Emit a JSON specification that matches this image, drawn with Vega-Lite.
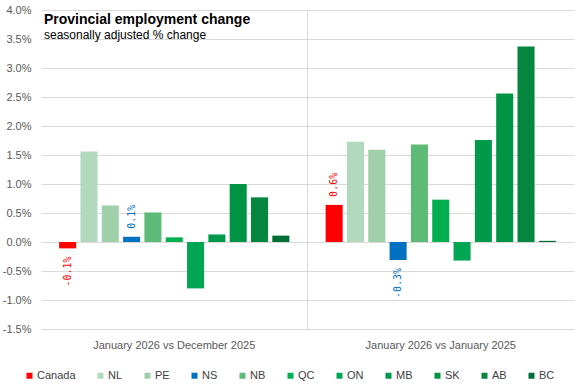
{
  "$schema": "https://vega.github.io/schema/vega-lite/v6.json",
  "width": 533,
  "height": 319,
  "autosize": {"type": "none"},
  "padding": {"left": 41, "top": 10, "right": 3, "bottom": 56},
  "background": "white",
  "config": {
    "locale": {"number": {"decimal": ".", "thousands": ",", "grouping": [3], "currency": ["$", ""], "minus": "-"}},
    "font": "Liberation Sans",
    "view": {"stroke": null}
  },
  "title": {
    "text": "Provincial employment change",
    "subtitle": "seasonally adjusted % change",
    "anchor": "start",
    "frame": "group",
    "orient": "top",
    "offset": -37,
    "dx": 3,
    "font": "Liberation Sans",
    "fontSize": 14,
    "fontWeight": "bold",
    "color": "#000000",
    "subtitleFont": "Liberation Sans",
    "subtitleFontSize": 12,
    "subtitleColor": "#000000",
    "subtitlePadding": 3
  },
  "data": {
    "values": [
      {"group": "January 2026 vs December 2025", "prov": "Canada", "value": -0.0011},
      {"group": "January 2026 vs December 2025", "prov": "NL", "value": 0.0156},
      {"group": "January 2026 vs December 2025", "prov": "PE", "value": 0.0063},
      {"group": "January 2026 vs December 2025", "prov": "NS", "value": 0.0009},
      {"group": "January 2026 vs December 2025", "prov": "NB", "value": 0.0051},
      {"group": "January 2026 vs December 2025", "prov": "QC", "value": 0.0008},
      {"group": "January 2026 vs December 2025", "prov": "ON", "value": -0.0080},
      {"group": "January 2026 vs December 2025", "prov": "MB", "value": 0.0013},
      {"group": "January 2026 vs December 2025", "prov": "SK", "value": 0.0100},
      {"group": "January 2026 vs December 2025", "prov": "AB", "value": 0.0077},
      {"group": "January 2026 vs December 2025", "prov": "BC", "value": 0.0011},
      {"group": "January 2026 vs January 2025", "prov": "Canada", "value": 0.0064},
      {"group": "January 2026 vs January 2025", "prov": "NL", "value": 0.0173},
      {"group": "January 2026 vs January 2025", "prov": "PE", "value": 0.0159},
      {"group": "January 2026 vs January 2025", "prov": "NS", "value": -0.0031},
      {"group": "January 2026 vs January 2025", "prov": "NB", "value": 0.0168},
      {"group": "January 2026 vs January 2025", "prov": "QC", "value": 0.0073},
      {"group": "January 2026 vs January 2025", "prov": "ON", "value": -0.0032},
      {"group": "January 2026 vs January 2025", "prov": "MB", "value": 0.0176},
      {"group": "January 2026 vs January 2025", "prov": "SK", "value": 0.0256},
      {"group": "January 2026 vs January 2025", "prov": "AB", "value": 0.0337},
      {"group": "January 2026 vs January 2025", "prov": "BC", "value": 0.0002}
    ]
  },
  "resolve": {"axis": {"x": "independent"}},
  "layer": [
    {
      "data": {"values": [{"group": "January 2026 vs January 2025"}]},
      "mark": {"type": "rule", "color": "#D9D9D9", "strokeWidth": 1},
      "encoding": {
        "x": {"field": "group", "type": "nominal", "bandPosition": 0,
              "sort": ["January 2026 vs December 2025", "January 2026 vs January 2025"],
              "axis": null}
      }
    },
    {
      "encoding": {
        "x": {
          "field": "group", "type": "nominal",
          "sort": ["January 2026 vs December 2025", "January 2026 vs January 2025"],
          "scale": {"paddingInner": 0, "paddingOuter": 0},
          "axis": {
            "title": null, "domain": false, "ticks": false, "grid": false,
            "labelAngle": 0, "labelPadding": 10, "labelFontSize": 11,
            "labelColor": "#595959", "labelFont": "Liberation Sans"
          }
        },
        "xOffset": {
          "field": "prov", "type": "nominal",
          "sort": ["Canada", "NL", "PE", "NS", "NB", "QC", "ON", "MB", "SK", "AB", "BC"],
          "scale": {"paddingInner": 0.2, "paddingOuter": 0.85}
        },
        "y": {
          "field": "value", "type": "quantitative",
          "scale": {"domain": [-0.015, 0.04], "nice": false, "zero": false},
          "axis": {
            "title": null, "domain": false, "ticks": false, "grid": true,
            "gridColor": "#D9D9D9", "gridWidth": 1, "labelOverlap": false,
            "tickCount": 12,
            "values": [-0.015, -0.01, -0.005, 0, 0.005, 0.01, 0.015, 0.02, 0.025, 0.03, 0.035, 0.04],
            "format": ".1%", "labelPadding": 10, "labelFontSize": 11,
            "labelColor": "#595959", "labelFont": "Liberation Sans"
          }
        },
        "color": {
          "field": "prov", "type": "nominal",
          "sort": ["Canada", "NL", "PE", "NS", "NB", "QC", "ON", "MB", "SK", "AB", "BC"],
          "scale": {
            "domain": ["Canada", "NL", "PE", "NS", "NB", "QC", "ON", "MB", "SK", "AB", "BC"],
            "range": ["#FF0000", "#B3D9BC", "#A0D0A9", "#0070C0", "#5EBA77", "#00B050", "#00A651", "#009A4A", "#009444", "#05863E", "#006F36"]
          },
          "legend": {
            "title": null, "orient": "none", "direction": "horizontal", "columns": 11,
            "legendX": -17, "legendY": 360, "padding": 0,
            "symbolType": "square", "symbolSize": 36, "symbolStrokeWidth": 0,
            "labelFontSize": 11, "labelColor": "#404040", "labelFont": "Liberation Sans",
            "labelOffset": 2, "columnPadding": 19, "gridAlign": "each"
          }
        }
      },
      "layer": [
        {"mark": {"type": "bar"}},
        {
          "transform": [{"filter": "(datum.prov === 'Canada' || datum.prov === 'NS') && datum.value >= 0"}],
          "mark": {"type": "text", "angle": 270, "align": "left", "baseline": "middle", "dx": 8, "font": "DejaVu Sans Mono", "fontSize": 10},
          "encoding": {"text": {"field": "value", "type": "quantitative", "format": ".1%"}}
        },
        {
          "transform": [{"filter": "(datum.prov === 'Canada' || datum.prov === 'NS') && datum.value < 0"}],
          "mark": {"type": "text", "angle": 270, "align": "right", "baseline": "middle", "dx": -8, "font": "DejaVu Sans Mono", "fontSize": 10},
          "encoding": {"text": {"field": "value", "type": "quantitative", "format": ".1%"}}
        }
      ]
    }
  ]
}
